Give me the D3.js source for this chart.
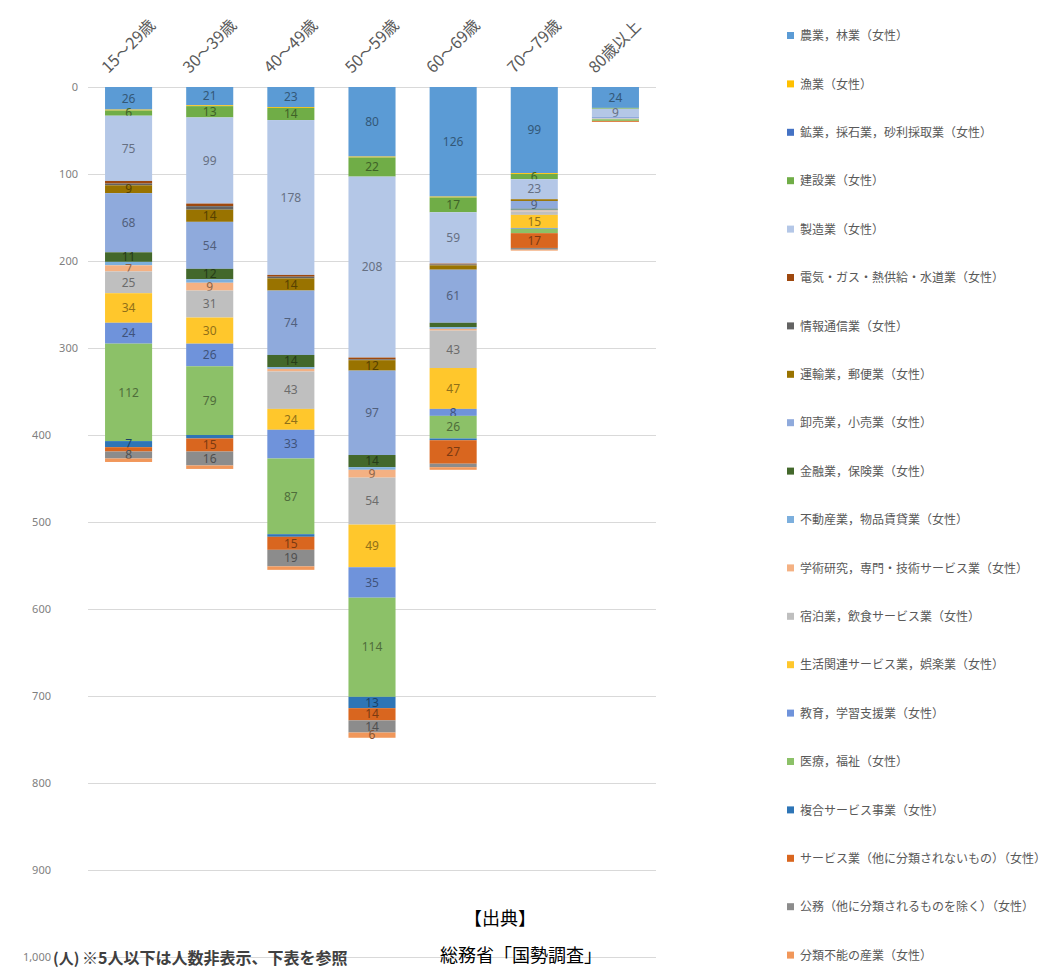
<!DOCTYPE html>
<html>
<head>
<meta charset="utf-8">
<script src="https://cdn.jsdelivr.net/npm/d3@7"></script>
<style>
body { margin: 0; background: #fff; }
text { font-family: "Noto Sans CJK JP", "Noto Sans", sans-serif; }
</style>
</head>
<body>
<svg id="chart" width="1046" height="970"></svg>
<script>
var ageGroups = ["15～29歳", "30～39歳", "40～49歳", "50～59歳", "60～69歳", "70～79歳", "80歳以上"];

var industries = [
    "農業，林業（女性）",
    "漁業（女性）",
    "鉱業，採石業，砂利採取業（女性）",
    "建設業（女性）",
    "製造業（女性）",
    "電気・ガス・熱供給・水道業（女性）",
    "情報通信業（女性）",
    "運輸業，郵便業（女性）",
    "卸売業，小売業（女性）",
    "金融業，保険業（女性）",
    "不動産業，物品賃貸業（女性）",
    "学術研究，専門・技術サービス業（女性）",
    "宿泊業，飲食サービス業（女性）",
    "生活関連サービス業，娯楽業（女性）",
    "教育，学習支援業（女性）",
    "医療，福祉（女性）",
    "複合サービス事業（女性）",
    "サービス業（他に分類されないもの）（女性）",
    "公務（他に分類されるものを除く）（女性）",
    "分類不能の産業（女性）"
];

var colors = ["#5B9BD5", "#FFC000", "#4472C4", "#70AD47", "#B4C7E7", "#9E480E", "#636363",
    "#997300", "#8FAADC", "#43682B", "#7CAFDD", "#F4B183", "#BFBFBF", "#FFC72C",
    "#6F93DB", "#8CC168", "#2E75B6", "#D9661F", "#8C8C8C", "#F1975A"];

// values per age group, in the order of industries
var v15_29 = [26, 1, 0, 6, 75, 3, 2, 9, 68, 11, 4, 7, 25, 34, 24, 112, 7, 5, 8, 4];
var v30_39 = [21, 1, 0, 13, 99, 3, 4, 14, 54, 12, 4, 9, 31, 30, 26, 79, 4, 15, 16, 4];
var v40_49 = [23, 1, 0, 14, 178, 2, 2, 14, 74, 14, 2, 3, 43, 24, 33, 87, 3, 15, 19, 4];
var v50_59 = [80, 1, 0, 22, 208, 2, 1, 12, 97, 14, 3, 9, 54, 49, 35, 114, 13, 14, 14, 6];
var v60_69 = [126, 1, 0, 17, 59, 1, 1, 5, 61, 5, 2, 2, 43, 47, 8, 26, 2, 27, 4, 3];
var v70_79 = [99, 1, 0, 6, 23, 0, 0, 2, 9, 1, 1, 1, 4, 15, 1, 5, 0, 17, 2, 1];
var v80 = [24, 0, 0, 1, 9, 0, 0, 0, 2, 0, 0, 0, 1, 0, 0, 2, 0, 1, 0, 0];
var seriesValues = [v15_29, v30_39, v40_49, v50_59, v60_69, v70_79, v80];

var yTicks = [0, 100, 200, 300, 400, 500, 600, 700, 800, 900, 1000];

var plot = { left: 88, right: 656, top: 87, bottom: 957 };

var svg = d3.select("#chart");

var rows = ageGroups.map(function(a, i) {
    var r = { age: a };
    industries.forEach(function(k, j) { r[k] = seriesValues[i][j]; });
    return r;
});

var stacked = d3.stack().keys(industries)(rows);

var x = d3.scaleBand()
    .domain(ageGroups)
    .range([plot.left, plot.right])
    .paddingInner(0.42)
    .paddingOuter(0.21);

var y = d3.scaleLinear()
    .domain([0, 1000])
    .range([plot.top, plot.bottom]);

// gridlines
var yAxis = d3.axisLeft(y)
    .tickValues(yTicks)
    .tickSize(-(plot.right - plot.left))
    .tickFormat("");

var yg = svg.append("g")
    .attr("transform", `translate(${plot.left},0)`)
    .call(yAxis);
yg.select(".domain").remove();
yg.selectAll("line").attr("stroke", "#d9d9d9");

// tick labels (the lower ones sit further left in the original)
svg.append("g").selectAll("text")
    .data(yTicks)
    .enter()
    .append("text")
    .attr("x", d => d < 400 ? 78 : 51)
    .attr("y", d => y(d))
    .attr("dy", "0.35em")
    .attr("text-anchor", "end")
    .attr("fill", "#7f7f7f")
    .style("font-family", "'Noto Sans', sans-serif")
    .style("font-size", "11px")
    .text(d3.format(","));

// bars
var layers = svg.append("g").selectAll("g")
    .data(stacked)
    .enter()
    .append("g")
    .attr("fill", (d, i) => colors[i]);

layers.selectAll("rect")
    .data(d => d)
    .enter()
    .append("rect")
    .attr("x", d => x(d.data.age))
    .attr("width", x.bandwidth())
    .attr("y", d => y(d[0]))
    .attr("height", d => y(d[1]) - y(d[0]));

// value labels (5 and under are hidden)
layers.each(function(layer, i) {
    var labelColor = d3.color(colors[i]).darker(1.6).formatHex();
    d3.select(this).selectAll("text")
        .data(layer.filter(d => d[1] - d[0] > 5))
        .enter()
        .append("text")
        .attr("x", d => x(d.data.age) + x.bandwidth() / 2)
        .attr("y", d => (y(d[0]) + y(d[1])) / 2)
        .attr("dy", "0.35em")
        .attr("text-anchor", "middle")
        .attr("fill", labelColor)
        .style("font-family", "'Noto Sans', sans-serif")
        .style("font-size", "12px")
        .text(d => d[1] - d[0]);
});

// category labels at the top, rotated
svg.append("g").selectAll("text")
    .data(ageGroups)
    .enter()
    .append("text")
    .attr("transform", d => `translate(${x(d) + x.bandwidth() / 2 - 20}, 74) rotate(-45)`)
    .attr("fill", "#595959")
    .style("font-size", "16px")
    .text(d => d);

// legend
var legend = svg.append("g").selectAll("g")
    .data(industries)
    .enter()
    .append("g")
    .attr("transform", (d, i) => `translate(787, ${36 + i * 48.4})`);

legend.append("rect")
    .attr("x", 0)
    .attr("y", -4)
    .attr("width", 7)
    .attr("height", 7)
    .attr("fill", (d, i) => colors[i]);

legend.append("text")
    .attr("x", 13)
    .attr("dy", "0.35em")
    .attr("fill", "#595959")
    .style("font-size", "12px")
    .text(d => d);

// notes
svg.append("text")
    .attr("x", 53)
    .attr("y", 964)
    .attr("fill", "#404040")
    .style("font-size", "15px")
    .style("font-weight", "bold")
    .text("(人)");

svg.append("text")
    .attr("x", 82)
    .attr("y", 964)
    .attr("fill", "#404040")
    .style("font-size", "16px")
    .style("font-weight", "bold")
    .text("※5人以下は人数非表示、下表を参照");

svg.append("text")
    .attr("x", 464)
    .attr("y", 925)
    .attr("fill", "#000")
    .style("font-size", "18px")
    .text("【出典】");

svg.append("text")
    .attr("x", 440)
    .attr("y", 962)
    .attr("fill", "#000")
    .style("font-size", "18px")
    .text("総務省「国勢調査」");
</script>
</body>
</html>
